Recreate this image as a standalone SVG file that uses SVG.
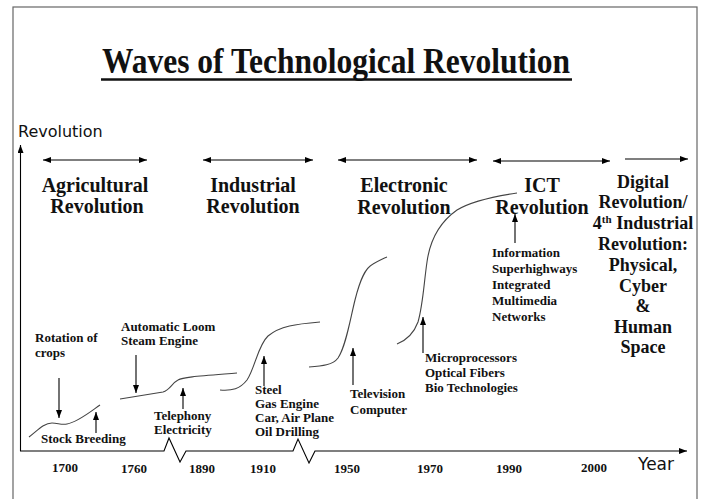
<svg xmlns="http://www.w3.org/2000/svg" width="702" height="499" viewBox="0 0 702 499">
<defs>
<marker id="ah" markerUnits="userSpaceOnUse" markerWidth="8" markerHeight="6" refX="8" refY="3" orient="auto-start-reverse">
<path d="M0,0 L8,3 L0,6 z" fill="#000"/>
</marker>
<style>
.t{font-family:"Liberation Serif","Times New Roman",serif;font-weight:bold;fill:#111}
.h{font-size:20px;text-anchor:middle}
.d{font-size:18px;text-anchor:middle}
.s{font-size:13px}
.c{font-family:"DejaVu Sans","Comic Sans MS",sans-serif;fill:#111}
.cv{fill:none;stroke:#444;stroke-width:1.1}
.ar{fill:none;stroke:#000;stroke-width:1.1}
</style>
</defs>
<rect x="0" y="0" width="702" height="499" fill="#fff"/>
<rect x="13" y="7" width="684" height="510" fill="none" stroke="#666" stroke-width="1.2"/>

<g id="title">
<text class="t" x="336" y="73" font-size="36" text-anchor="middle" textLength="468" lengthAdjust="spacingAndGlyphs">Waves of Technological Revolution</text>
<line x1="101" y1="79.5" x2="572" y2="79.5" stroke="#111" stroke-width="2.5"/>
</g>

<g id="axes">
<text class="c" x="18" y="137" font-size="16">Revolution</text>
<line class="ar" x1="20.5" y1="451" x2="20.5" y2="145" marker-end="url(#ah)" stroke="#555"/>
<polyline class="ar" points="20,451 164,451 169,438 180,462 186,451 293,451 298,439 309,463 315,451 687,451" stroke="#555" marker-end="url(#ah)"/>
<text class="c" x="638" y="470" font-size="17">Year</text>
<g class="t s" text-anchor="middle">
<text x="65" y="472">1700</text>
<text x="134" y="473">1760</text>
<text x="202" y="473">1890</text>
<text x="263" y="473">1910</text>
<text x="347" y="473">1950</text>
<text x="430" y="473">1970</text>
<text x="509" y="473">1990</text>
<text x="594" y="472">2000</text>
</g>
</g>

<g id="connectors">
<line class="ar" x1="43" y1="160" x2="147" y2="160" marker-start="url(#ah)" marker-end="url(#ah)"/>
<line class="ar" x1="203" y1="160" x2="313" y2="160" marker-start="url(#ah)" marker-end="url(#ah)"/>
<line class="ar" x1="338" y1="160" x2="477" y2="160" marker-start="url(#ah)" marker-end="url(#ah)"/>
<line class="ar" x1="493" y1="161" x2="610" y2="161" marker-start="url(#ah)" marker-end="url(#ah)"/>
<line class="ar" x1="625" y1="159" x2="688" y2="159" marker-end="url(#ah)"/>
<line class="ar" x1="59" y1="378" x2="59" y2="418" marker-end="url(#ah)"/>
<line class="ar" x1="96" y1="433" x2="96" y2="412" marker-end="url(#ah)"/>
<line class="ar" x1="136" y1="355" x2="136" y2="393" marker-end="url(#ah)"/>
<line class="ar" x1="183" y1="409" x2="183" y2="388" marker-end="url(#ah)"/>
<line class="ar" x1="264" y1="386" x2="264" y2="356" marker-end="url(#ah)"/>
<line class="ar" x1="353" y1="385" x2="353" y2="348" marker-end="url(#ah)"/>
<line class="ar" x1="423" y1="353" x2="423" y2="317" marker-end="url(#ah)"/>
<line class="ar" x1="515" y1="243" x2="515" y2="214" marker-end="url(#ah)"/>
</g>

<g id="curves">
<path class="cv" d="M29,437 C38,430 44,423 52,423 C58,423 61,425 67,424 C78,422 90,412 100,405"/>
<path class="cv" d="M120,399 L163,392 C170,390 172,383 178,380 C183,377 200,376 237,373"/>
<path class="cv" d="M220,390 C232,391 240,389 247,380 C255,368 258,345 268,336 C280,326 296,324 320,322"/>
<path class="cv" d="M309,367 C322,366 333,365 338,358 C346,346 350,320 355,300 C360,280 365,268 373,264 C380,260 384,258 387,257"/>
<path class="cv" d="M397,344 C407,340 414,333 418,322 C423,305 424,282 427,262 C430,240 440,222 457,210 C470,202 490,197 517,193"/>
</g>

<g id="agricultural" class="t h">
<text x="95" y="192">Agricultural</text>
<text x="97" y="213">Revolution</text>
</g>
<g id="industrial" class="t h">
<text x="253" y="192">Industrial</text>
<text x="253" y="213">Revolution</text>
</g>
<g id="electronic" class="t h">
<text x="404" y="192">Electronic</text>
<text x="404" y="214">Revolution</text>
</g>
<g id="ict" class="t h">
<text x="542" y="192">ICT</text>
<text x="542" y="214">Revolution</text>
</g>
<g id="digital" class="t d">
<text x="643" y="188">Digital</text>
<text x="643" y="208">Revolution/</text>
<text x="643" y="229">4<tspan font-size="11" dy="-6">th</tspan><tspan dy="6"> Industrial</tspan></text>
<text x="643" y="250">Revolution:</text>
<text x="643" y="271">Physical,</text>
<text x="643" y="292">Cyber</text>
<text x="643" y="312">&amp;</text>
<text x="643" y="333">Human</text>
<text x="643" y="353">Space</text>
</g>

<g id="rotation" class="t s">
<text x="35" y="342">Rotation of</text>
<text x="35" y="357">crops</text>
</g>
<g id="stock" class="t s">
<text x="41" y="443">Stock Breeding</text>
</g>
<g id="loom" class="t s">
<text x="121" y="331">Automatic Loom</text>
<text x="121" y="345">Steam Engine</text>
</g>
<g id="telephony" class="t s">
<text x="154" y="420">Telephony</text>
<text x="154" y="434">Electricity</text>
</g>
<g id="steel" class="t s">
<text x="255" y="394">Steel</text>
<text x="255" y="408">Gas Engine</text>
<text x="255" y="422">Car, Air Plane</text>
<text x="255" y="436">Oil Drilling</text>
</g>
<g id="television" class="t s">
<text x="350" y="398">Television</text>
<text x="350" y="414">Computer</text>
</g>
<g id="micro" class="t s">
<text x="425" y="362">Microprocessors</text>
<text x="425" y="377">Optical Fibers</text>
<text x="425" y="392">Bio Technologies</text>
</g>
<g id="info" class="t s">
<text x="492" y="257">Information</text>
<text x="492" y="273">Superhighways</text>
<text x="492" y="289">Integrated</text>
<text x="492" y="305">Multimedia</text>
<text x="492" y="321">Networks</text>
</g>
</svg>
